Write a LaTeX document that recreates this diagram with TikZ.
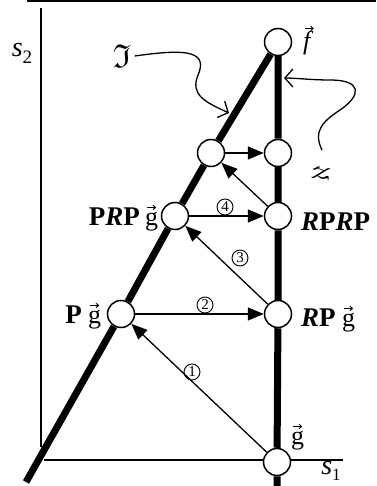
\documentclass[tikz,border=0pt]{standalone}
\usepackage{amssymb}
\usepackage{fontspec}
\setmainfont{Liberation Serif}
\usetikzlibrary{arrows.meta}
\begin{document}
\begin{tikzpicture}[x=1pt,y=-1pt,
  dot/.style={circle,draw,fill=white,line width=1.5pt,minimum size=27pt,inner sep=0pt},
  heavy/.style={line width=7pt},
  axis/.style={line width=1.4pt},
  arr/.style={line width=1.3pt,-{Triangle[length=16pt,width=13pt]}},
  wavy/.style={line width=1.3pt,-{Straight Barb[length=8pt,width=18pt,line width=1.3pt]}},
  vecarr/.style={line width=0.9pt,-{Straight Barb[length=2.5pt,width=4.5pt,line width=0.9pt]}},
  lab/.style={font=\fontsize{27}{27}\selectfont},
  gl/.style={font=\fontsize{26}{26}\selectfont,inner sep=0pt},
  sm/.style={font=\fontsize{28}{28}\selectfont,inner sep=0pt},
  num/.style={circle,draw,line width=0.9pt,minimum size=16pt,inner sep=0pt,font=\fontsize{15}{15}\selectfont}]
\useasboundingbox (0,0) rectangle (376,486);
% frame and axes
\coordinate (topL) at (27,1);
\coordinate (topR) at (376,1);
\coordinate (ytop) at (41,8);
\coordinate (ybot) at (41,447);
\coordinate (xl) at (44,460);
\coordinate (xr) at (343,460);
\coordinate (dbot) at (26,482);
\coordinate (vbot) at (277,486);
\draw[axis] (topL) -- (topR);
\draw[axis] (ytop) -- (ybot);
\draw[axis] (xl) -- (xr);
% circles
\node[dot] (f) at (278,42) {};
\node[dot] (TL) at (211,153) {};
\node[dot] (TR) at (278,153) {};
\node[dot] (PRP) at (175,216) {};
\node[dot] (RPRP) at (278,216) {};
\node[dot] (Pg) at (121,314) {};
\node[dot] (RPg) at (278,314) {};
\node[dot] (g) at (277,462) {};
% heavy lines
\draw[heavy] (f) -- (TL) -- (PRP) -- (Pg) -- (dbot);
\draw[heavy] (f) -- (TR) -- (RPRP) -- (RPg) -- (g) -- (vbot);
% arrows
\draw[arr] (g) -- (Pg);
\draw[arr] (Pg) -- (RPg);
\draw[arr] (RPg) -- (PRP);
\draw[arr] (PRP) -- (RPRP);
\draw[arr] (RPRP) -- (TL);
\draw[arr] (TL) -- (TR);
\node[num] (n1) at (192,372) {1};
\node[num] (n2) at (205,305) {2};
\node[num] (n3) at (240,258) {3};
\node[num] (n4) at (225,207) {4};
% axis labels
\node[sm] (s2) at (22,53) {\textit{s}\raisebox{-0.25em}{\fontsize{19}{19}\selectfont 2}};
\node[sm] (s1) at (331,471) {\textit{s}\raisebox{-0.2em}{\fontsize{17}{17}\selectfont 1}};
\node[font=\fontsize{33}{33}\selectfont] (Im) at (122,56) {$\mathfrak{I}$};
\node[font=\fontsize{32}{32}\selectfont,rotate=80] (al) at (321,174) {$\aleph$};
% vector labels
\node[gl,anchor=base west] (gf) at (303,50) {\itshape f};
\draw[vecarr] ([xshift=-2pt,yshift=3pt]gf.north) -- ++(9pt,0);
\node[gl,anchor=base west] (g0) at (291,444) {g};
\draw[vecarr] ([xshift=-4.5pt,yshift=4pt]g0.north) -- ++(9pt,0);
\node[gl,anchor=base west] (g1) at (145,225) {g};
\draw[vecarr] ([xshift=-4.5pt,yshift=4pt]g1.north) -- ++(9pt,0);
\node[lab,anchor=base east,inner sep=0pt] (lPRP) at ([xshift=-5pt]g1.base west) {\textbf{P\textit{R}P}};
\node[gl,anchor=base west] (g2) at (88,323) {g};
\draw[vecarr] ([xshift=-4.5pt,yshift=4pt]g2.north) -- ++(9pt,0);
\node[lab,anchor=base east,inner sep=0pt] (lPg) at ([xshift=-6pt]g2.base west) {\textbf{P}};
\node[lab,anchor=base west,inner sep=0pt] (lRPRP) at (301,230) {\textbf{\textit{R}P\textit{R}P}};
\node[lab,anchor=base west,inner sep=0pt] (lRP) at (301,326) {\textbf{\textit{R}P}};
\node[gl,anchor=base west] (g3) at ([xshift=6pt]lRP.base east) {g};
\draw[vecarr] ([xshift=-4.5pt,yshift=4pt]g3.north) -- ++(9pt,0);
% wavy pointers
\coordinate (wi) at (229,113);
\coordinate (wa0) at (322,150);
\coordinate (wa) at (284,78);
\draw[wavy] (Im.east) .. controls (178,50) and (210,48) .. (198,75)
   .. controls (190,95) and (205,102) .. (wi);
\draw[wavy] (wa0) .. controls (312,130) and (325,120) .. (340,110)
   .. controls (362,95) and (362,80) .. (330,80)
   .. controls (312,80) and (295,78) .. (wa);
\end{tikzpicture}
\end{document}
